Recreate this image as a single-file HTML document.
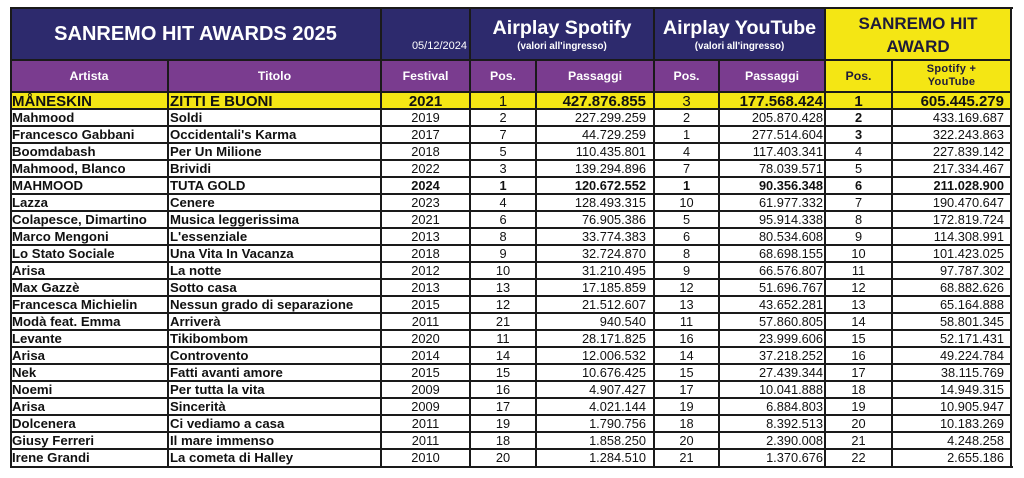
<!DOCTYPE html>
<html><head><meta charset="utf-8">
<style>
*{box-sizing:border-box}
body{margin:0;width:1024px;height:478px;background:#fff;position:relative;overflow:hidden;font-family:"Liberation Sans",Arial,sans-serif;}
.bg{position:absolute}
.ln{position:absolute;background:#1a1a1a}
.t{position:absolute;white-space:nowrap}
.r{position:absolute;left:0;width:1024px;height:17px;line-height:17px;white-space:nowrap;font-size:12.8px;color:#111}
.r span{position:absolute;top:0;height:17px;overflow:visible}
.c1{left:12px;width:154px;font-weight:bold;font-size:13.2px;text-align:left}
.c2{left:170px;width:209px;font-weight:bold;font-size:13.2px;text-align:left}
.c3{left:381px;width:89px;text-align:center}
.c4{left:470px;width:66px;text-align:center}
.c5{left:536px;width:110px;text-align:right}
.c6{left:654px;width:65px;text-align:center}
.c7{left:719px;width:104px;text-align:right}
.c8{left:825px;width:67px;text-align:center}
.c9{left:892px;width:112px;text-align:right}
.b{font-weight:bold}
.y span{font-size:15px;font-weight:bold;top:0.5px}
.y .c4,.y .c6{font-weight:normal}
.h2{position:absolute;top:60px;height:32px;line-height:32px;text-align:center;font-weight:bold;font-size:12.3px;color:#fff}
</style></head><body>

<!-- backgrounds -->
<div class="bg" style="left:10px;top:8px;width:815px;height:52px;background:#2d2a6d"></div>
<div class="bg" style="left:825px;top:8px;width:186px;height:84px;background:#f4e614"></div>
<div class="bg" style="left:10px;top:60px;width:815px;height:32px;background:#7a3c8f"></div>
<div class="bg" style="left:10px;top:92px;width:1001px;height:17px;background:#f4e614"></div>

<!-- header row 1 text -->
<div class="t" style="left:10px;top:8px;width:371px;height:52px;line-height:52px;text-align:center;color:#fff;font-weight:bold;font-size:20px">SANREMO HIT AWARDS 2025</div>
<div class="t" style="left:381px;top:41.4px;width:86px;line-height:11px;text-align:right;color:#fff;font-size:11px">05/12/2024</div>
<div class="t" style="left:470px;top:17.5px;width:184px;line-height:20px;text-align:center;color:#fff;font-weight:bold;font-size:19.7px">Airplay Spotify</div>
<div class="t" style="left:470px;top:41.6px;width:184px;line-height:10px;text-align:center;color:#fff;font-weight:bold;font-size:9.8px">(valori all'ingresso)</div>
<div class="t" style="left:654px;top:17.5px;width:171px;line-height:20px;text-align:center;color:#fff;font-weight:bold;font-size:19.7px">Airplay YouTube</div>
<div class="t" style="left:654px;top:41.6px;width:171px;line-height:10px;text-align:center;color:#fff;font-weight:bold;font-size:9.8px">(valori all'ingresso)</div>
<div class="t" style="left:825px;top:11.9px;width:186px;line-height:23px;text-align:center;color:#1e1b3a;font-weight:bold;font-size:17px">SANREMO HIT<br>AWARD</div>

<!-- header row 2 text -->
<div class="h2" style="left:10px;width:158px">Artista</div>
<div class="h2" style="left:168px;width:213px">Titolo</div>
<div class="h2" style="left:381px;width:89px">Festival</div>
<div class="h2" style="left:470px;width:66px">Pos.</div>
<div class="h2" style="left:536px;width:118px">Passaggi</div>
<div class="h2" style="left:654px;width:65px">Pos.</div>
<div class="h2" style="left:719px;width:106px">Passaggi</div>
<div class="h2" style="left:825px;width:67px;color:#1e1b3a">Pos.</div>
<div class="t" style="left:892px;top:63px;width:119px;line-height:13px;text-align:center;color:#1e1b3a;font-weight:bold;font-size:11px;letter-spacing:0.3px">Spotify +<br>YouTube</div>

<!-- data rows -->
<div class="r y" style="top:92px;height:17px"><span class="c1">MÅNESKIN</span><span class="c2">ZITTI E BUONI</span><span class="c3">2021</span><span class="c4">1</span><span class="c5">427.876.855</span><span class="c6">3</span><span class="c7">177.568.424</span><span class="c8">1</span><span class="c9">605.445.279</span></div>
<div class="r" style="top:109px"><span class="c1">Mahmood</span><span class="c2">Soldi</span><span class="c3">2019</span><span class="c4">2</span><span class="c5">227.299.259</span><span class="c6">2</span><span class="c7">205.870.428</span><span class="c8 b">2</span><span class="c9">433.169.687</span></div>
<div class="r" style="top:126px"><span class="c1">Francesco Gabbani</span><span class="c2">Occidentali's Karma</span><span class="c3">2017</span><span class="c4">7</span><span class="c5">44.729.259</span><span class="c6">1</span><span class="c7">277.514.604</span><span class="c8 b">3</span><span class="c9">322.243.863</span></div>
<div class="r" style="top:143px"><span class="c1">Boomdabash</span><span class="c2">Per Un Milione</span><span class="c3">2018</span><span class="c4">5</span><span class="c5">110.435.801</span><span class="c6">4</span><span class="c7">117.403.341</span><span class="c8">4</span><span class="c9">227.839.142</span></div>
<div class="r" style="top:160px"><span class="c1">Mahmood, Blanco</span><span class="c2">Brividi</span><span class="c3">2022</span><span class="c4">3</span><span class="c5">139.294.896</span><span class="c6">7</span><span class="c7">78.039.571</span><span class="c8">5</span><span class="c9">217.334.467</span></div>
<div class="r" style="top:177px"><span class="c1">MAHMOOD</span><span class="c2">TUTA GOLD</span><span class="c3 b">2024</span><span class="c4 b">1</span><span class="c5 b">120.672.552</span><span class="c6 b">1</span><span class="c7 b">90.356.348</span><span class="c8 b">6</span><span class="c9 b">211.028.900</span></div>
<div class="r" style="top:194px"><span class="c1">Lazza</span><span class="c2">Cenere</span><span class="c3">2023</span><span class="c4">4</span><span class="c5">128.493.315</span><span class="c6">10</span><span class="c7">61.977.332</span><span class="c8">7</span><span class="c9">190.470.647</span></div>
<div class="r" style="top:211px"><span class="c1">Colapesce, Dimartino</span><span class="c2">Musica leggerissima</span><span class="c3">2021</span><span class="c4">6</span><span class="c5">76.905.386</span><span class="c6">5</span><span class="c7">95.914.338</span><span class="c8">8</span><span class="c9">172.819.724</span></div>
<div class="r" style="top:228px"><span class="c1">Marco Mengoni</span><span class="c2">L'essenziale</span><span class="c3">2013</span><span class="c4">8</span><span class="c5">33.774.383</span><span class="c6">6</span><span class="c7">80.534.608</span><span class="c8">9</span><span class="c9">114.308.991</span></div>
<div class="r" style="top:245px"><span class="c1">Lo Stato Sociale</span><span class="c2">Una Vita In Vacanza</span><span class="c3">2018</span><span class="c4">9</span><span class="c5">32.724.870</span><span class="c6">8</span><span class="c7">68.698.155</span><span class="c8">10</span><span class="c9">101.423.025</span></div>
<div class="r" style="top:262px"><span class="c1">Arisa</span><span class="c2">La notte</span><span class="c3">2012</span><span class="c4">10</span><span class="c5">31.210.495</span><span class="c6">9</span><span class="c7">66.576.807</span><span class="c8">11</span><span class="c9">97.787.302</span></div>
<div class="r" style="top:279px"><span class="c1">Max Gazzè</span><span class="c2">Sotto casa</span><span class="c3">2013</span><span class="c4">13</span><span class="c5">17.185.859</span><span class="c6">12</span><span class="c7">51.696.767</span><span class="c8">12</span><span class="c9">68.882.626</span></div>
<div class="r" style="top:296px"><span class="c1">Francesca Michielin</span><span class="c2">Nessun grado di separazione</span><span class="c3">2015</span><span class="c4">12</span><span class="c5">21.512.607</span><span class="c6">13</span><span class="c7">43.652.281</span><span class="c8">13</span><span class="c9">65.164.888</span></div>
<div class="r" style="top:313px"><span class="c1">Modà feat. Emma</span><span class="c2">Arriverà</span><span class="c3">2011</span><span class="c4">21</span><span class="c5">940.540</span><span class="c6">11</span><span class="c7">57.860.805</span><span class="c8">14</span><span class="c9">58.801.345</span></div>
<div class="r" style="top:330px"><span class="c1">Levante</span><span class="c2">Tikibombom</span><span class="c3">2020</span><span class="c4">11</span><span class="c5">28.171.825</span><span class="c6">16</span><span class="c7">23.999.606</span><span class="c8">15</span><span class="c9">52.171.431</span></div>
<div class="r" style="top:347px"><span class="c1">Arisa</span><span class="c2">Controvento</span><span class="c3">2014</span><span class="c4">14</span><span class="c5">12.006.532</span><span class="c6">14</span><span class="c7">37.218.252</span><span class="c8">16</span><span class="c9">49.224.784</span></div>
<div class="r" style="top:364px"><span class="c1">Nek</span><span class="c2">Fatti avanti amore</span><span class="c3">2015</span><span class="c4">15</span><span class="c5">10.676.425</span><span class="c6">15</span><span class="c7">27.439.344</span><span class="c8">17</span><span class="c9">38.115.769</span></div>
<div class="r" style="top:381px"><span class="c1">Noemi</span><span class="c2">Per tutta la vita</span><span class="c3">2009</span><span class="c4">16</span><span class="c5">4.907.427</span><span class="c6">17</span><span class="c7">10.041.888</span><span class="c8">18</span><span class="c9">14.949.315</span></div>
<div class="r" style="top:398px"><span class="c1">Arisa</span><span class="c2">Sincerità</span><span class="c3">2009</span><span class="c4">17</span><span class="c5">4.021.144</span><span class="c6">19</span><span class="c7">6.884.803</span><span class="c8">19</span><span class="c9">10.905.947</span></div>
<div class="r" style="top:415px"><span class="c1">Dolcenera</span><span class="c2">Ci vediamo a casa</span><span class="c3">2011</span><span class="c4">19</span><span class="c5">1.790.756</span><span class="c6">18</span><span class="c7">8.392.513</span><span class="c8">20</span><span class="c9">10.183.269</span></div>
<div class="r" style="top:432px"><span class="c1">Giusy Ferreri</span><span class="c2">Il mare immenso</span><span class="c3">2011</span><span class="c4">18</span><span class="c5">1.858.250</span><span class="c6">20</span><span class="c7">2.390.008</span><span class="c8">21</span><span class="c9">4.248.258</span></div>
<div class="r" style="top:449px"><span class="c1">Irene Grandi</span><span class="c2">La cometa di Halley</span><span class="c3">2010</span><span class="c4">20</span><span class="c5">1.284.510</span><span class="c6">21</span><span class="c7">1.370.676</span><span class="c8">22</span><span class="c9">2.655.186</span></div>

<!-- horizontal lines -->
<div class="ln" style="left:10px;top:59.3px;width:1001px;height:1.5px"></div>
<div class="ln" style="left:10px;top:91px;width:1001px;height:2px"></div>
<div class="ln" style="left:10px;top:108.2px;width:1001px;height:1.5px"></div>
<div class="ln" style="left:10px;top:125.2px;width:1001px;height:1.5px"></div>
<div class="ln" style="left:10px;top:142.2px;width:1001px;height:1.5px"></div>
<div class="ln" style="left:10px;top:159.2px;width:1001px;height:1.5px"></div>
<div class="ln" style="left:10px;top:176.2px;width:1001px;height:1.5px"></div>
<div class="ln" style="left:10px;top:193.2px;width:1001px;height:1.5px"></div>
<div class="ln" style="left:10px;top:210.2px;width:1001px;height:1.5px"></div>
<div class="ln" style="left:10px;top:227.2px;width:1001px;height:1.5px"></div>
<div class="ln" style="left:10px;top:244.2px;width:1001px;height:1.5px"></div>
<div class="ln" style="left:10px;top:261.2px;width:1001px;height:1.5px"></div>
<div class="ln" style="left:10px;top:278.2px;width:1001px;height:1.5px"></div>
<div class="ln" style="left:10px;top:295.2px;width:1001px;height:1.5px"></div>
<div class="ln" style="left:10px;top:312.2px;width:1001px;height:1.5px"></div>
<div class="ln" style="left:10px;top:329.2px;width:1001px;height:1.5px"></div>
<div class="ln" style="left:10px;top:346.2px;width:1001px;height:1.5px"></div>
<div class="ln" style="left:10px;top:363.2px;width:1001px;height:1.5px"></div>
<div class="ln" style="left:10px;top:380.2px;width:1001px;height:1.5px"></div>
<div class="ln" style="left:10px;top:397.2px;width:1001px;height:1.5px"></div>
<div class="ln" style="left:10px;top:414.2px;width:1001px;height:1.5px"></div>
<div class="ln" style="left:10px;top:431.2px;width:1001px;height:1.5px"></div>
<div class="ln" style="left:10px;top:448.2px;width:1001px;height:1.5px"></div>

<!-- vertical lines -->
<div class="ln" style="left:167.3px;top:60px;width:1.5px;height:407px"></div>
<div class="ln" style="left:380.3px;top:8px;width:1.5px;height:459px"></div>
<div class="ln" style="left:469px;top:8px;width:2px;height:459px"></div>
<div class="ln" style="left:535.3px;top:60px;width:1.5px;height:407px"></div>
<div class="ln" style="left:653px;top:8px;width:2.2px;height:459px"></div>
<div class="ln" style="left:718.3px;top:60px;width:1.5px;height:407px"></div>
<div class="ln" style="left:824px;top:8px;width:2.2px;height:459px"></div>
<div class="ln" style="left:891.3px;top:60px;width:1.5px;height:407px"></div>

<!-- outer border -->
<div class="ln" style="left:9.5px;top:7px;width:2.2px;height:461px"></div>
<div class="ln" style="left:1010px;top:7px;width:2.4px;height:461px"></div>
<div class="ln" style="left:9.5px;top:7px;width:1003px;height:2px"></div>
<div class="ln" style="left:9.5px;top:465.5px;width:1003px;height:2.4px"></div>

</body></html>
